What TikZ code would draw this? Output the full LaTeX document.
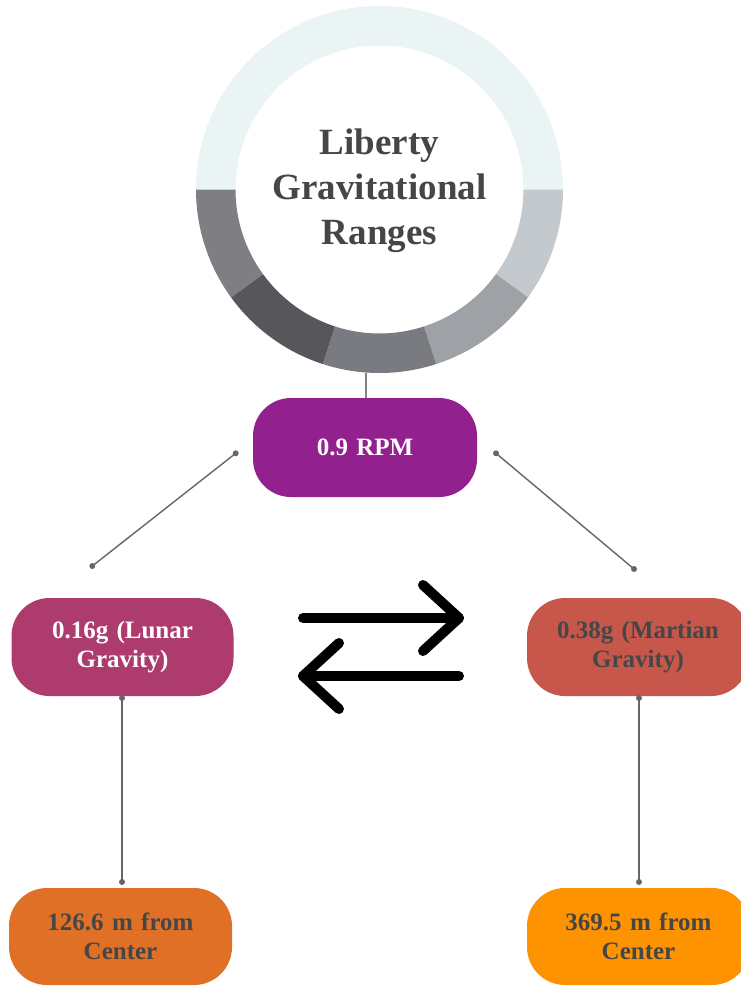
\documentclass[tikz,border=0pt]{standalone}
\usepackage{fontspec}
\setmainfont{Liberation Serif}
\definecolor{ringtop}{HTML}{EAF4F5}
\definecolor{ringA}{HTML}{C3C9CD}
\definecolor{ringB}{HTML}{9EA2A6}
\definecolor{ringC}{HTML}{7A7B80}
\definecolor{ringD}{HTML}{56565B}
\definecolor{ringE}{HTML}{7E7E83}
\definecolor{rpmcol}{HTML}{93208F}
\definecolor{lunarcol}{HTML}{AD3B6E}
\definecolor{martiancol}{HTML}{C6574A}
\definecolor{leftbotcol}{HTML}{E07026}
\definecolor{rightbotcol}{HTML}{FD9300}
\definecolor{darktext}{HTML}{464646}
\definecolor{linecol}{HTML}{666666}
\begin{document}
\begin{tikzpicture}[x=1pt,y=-1pt,
  pill/.style={rounded corners=38pt, minimum width=222pt, minimum height=98pt,
    inner sep=0pt, align=center, text width=210pt,
    font=\fontsize{25}{29}\selectfont\bfseries},
  conn/.style={draw=linecol, line width=1.4pt},
  dotend/.style={fill=linecol, circle, inner sep=0pt, minimum size=6pt},
  swap/.style={line width=10pt, line cap=round, line join=round}]
\useasboundingbox (0,0) rectangle (741,988);
\fill[white] (0,0) rectangle (741,988);
% ring
\begin{scope}[shift={(379.5,189.5)}, y=1pt]
  \fill[ringtop] (0:183.5) arc[start angle=0,end angle=180,radius=183.5] -- (180:144) arc[start angle=180,end angle=0,radius=144] -- cycle;
  \foreach \a/\c in {0/ringA,-36/ringB,-72/ringC,-108/ringD,-144/ringE}{
    \pgfmathsetmacro\b{\a-36}
    \fill[\c] (\a:183.5) arc[start angle=\a,end angle=\b,radius=183.5] -- (\b:144) arc[start angle=\b,end angle=\a,radius=144] -- cycle;
  }
\end{scope}
\node[circle, minimum size=367pt, inner sep=0pt] (ring) at (379.5,189.5) {};
\node[align=center, text=darktext, font=\fontsize{37}{45}\selectfont\bfseries] (title) at (379.5,191) {Liberty\\Gravitational\\Ranges};
% boxes
\node[pill, fill=rpmcol, text=white, minimum width=224pt, minimum height=99pt] (rpm) at (365,447.5) {0.9 RPM};
\node[pill, fill=lunarcol, text=white] (lunar) at (122.5,647) {0.16g (Lunar\\Gravity)};
\node[pill, fill=martiancol, text=darktext] (martian) at (638,647) {0.38g (Martian\\Gravity)};
\node[pill, fill=leftbotcol, text=darktext, minimum width=223pt, minimum height=97pt] (lbot) at (120.5,936.5) {126.6 m from\\Center};
\node[pill, fill=rightbotcol, text=darktext, minimum width=223pt, minimum height=97pt] (rbot) at (638.5,936.5) {369.5 m from\\Center};
% connectors
\coordinate (ringbot) at (366,373);
\coordinate (rpmtop) at (366,398);
\draw[draw=linecol!80, line width=2pt] (ringbot) -- (rpmtop);
\coordinate (dl1) at (235.7,453.3);
\coordinate (dl2) at (92.3,566);
\coordinate (dr1) at (496,453.3);
\coordinate (dr2) at (634,569);
\draw[conn] (dl1) -- (dl2);
\draw[conn] (dr1) -- (dr2);
\coordinate (lv1) at (122,698);
\coordinate (lv2) at (122,882);
\coordinate (rv1) at (639,698);
\coordinate (rv2) at (639,882);
\draw[conn] (lv1) -- (lv2);
\draw[conn] (rv1) -- (rv2);
\foreach \p in {dl1,dl2,dr1,dr2,lv1,lv2,rv1,rv2}{\node[dotend] at (\p) {};}
% swap arrows
\coordinate (a1s) at (303,618);
\coordinate (a1e) at (459,618);
\coordinate (a1u) at (423,585);
\coordinate (a1d) at (423,651);
\coordinate (a2s) at (459,676);
\coordinate (a2e) at (303,676);
\coordinate (a2u) at (339,643);
\coordinate (a2d) at (339,709);
\draw[swap] (a1s) -- (a1e);
\draw[swap] (a1u) -- (a1e) -- (a1d);
\draw[swap] (a2s) -- (a2e);
\draw[swap] (a2u) -- (a2e) -- (a2d);
\end{tikzpicture}
\end{document}
